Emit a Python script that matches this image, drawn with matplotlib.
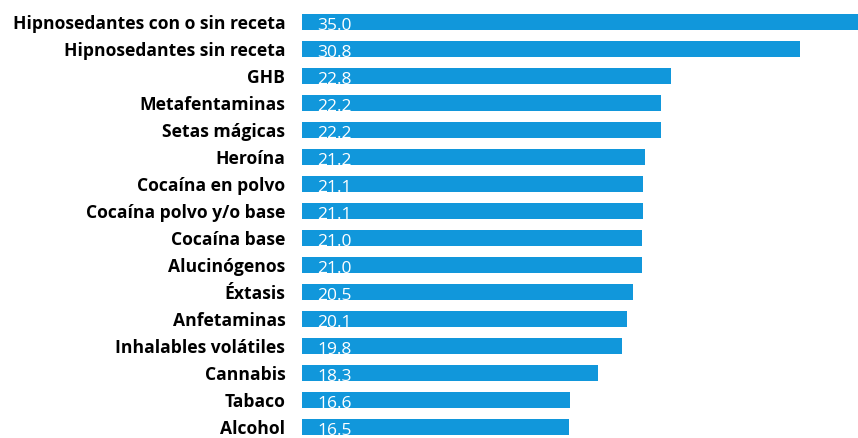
import numpy as np
import matplotlib.pyplot as plt

categories = ["Hipnosedantes con o sin receta", "Hipnosedantes sin receta", "GHB",
              "Metafentaminas", "Setas mágicas", "Heroína", "Cocaína en polvo",
              "Cocaína polvo y/o base", "Cocaína base", "Alucinógenos", "Éxtasis",
              "Anfetaminas", "Inhalables volátiles", "Cannabis", "Tabaco", "Alcohol"]
values = [35.0, 30.8, 22.8, 22.2, 22.2, 21.2, 21.1, 21.1, 21.0, 21.0, 20.5, 20.1,
          19.8, 18.3, 16.6, 16.5]

bar_color = "#1197DB"

fig = plt.figure(figsize=(8.58, 4.38), dpi=100)
ax = fig.add_axes([302/858, 0, 556/858, 1])

y = np.arange(len(categories))
bars = ax.barh(y, values, height=0.6, color=bar_color)

ax.set_xlim(0, 556/16.17)
ax.set_ylim((438-22)/27, -22/27)

ax.set_yticks(y)
ax.set_yticklabels(categories, fontfamily="Open Sans", fontweight="bold", fontsize=12.6)
ax.tick_params(axis="y", length=0, pad=12)
ax.set_xticks([])
for s in ax.spines.values():
    s.set_visible(False)

for b, v in zip(bars, values):
    t = ax.text(0.95, b.get_y() + 0.15, f"{v:.1f}", color="white", ha="left", va="top",
                fontfamily="Open Sans", fontsize=12.5)
    t.set_clip_path(b)

fig.savefig("out.png", dpi=100)
